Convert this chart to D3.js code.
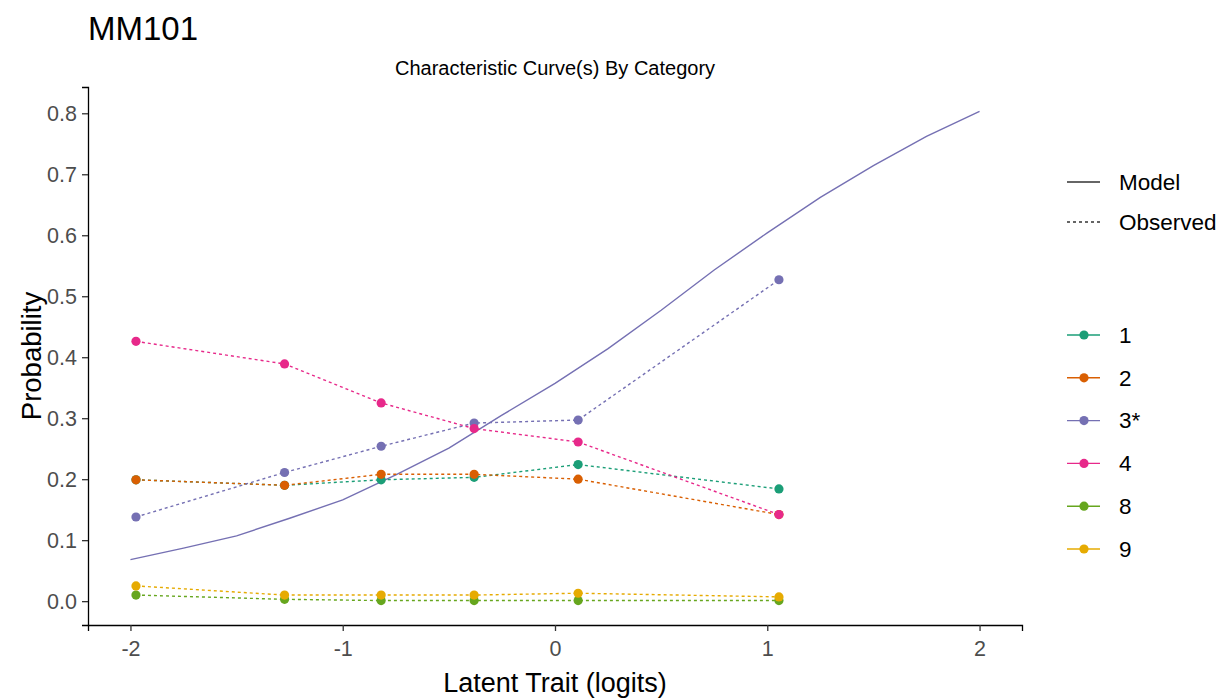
<!DOCTYPE html>
<html>
<head>
<meta charset="utf-8">
<script src="https://cdn.jsdelivr.net/npm/d3@7"></script>
<style>
  html, body { margin: 0; padding: 0; background: #fff; }
  svg text { font-family: "Liberation Sans", Arial, sans-serif; }
</style>
</head>
<body>
<svg id="chart" width="1230" height="699"></svg>
<script>
// Ability group means (logits) at which observed proportions were computed
const groupTheta = [-1.974, -1.274, -0.819, -0.381, 0.109, 1.055];

// Observed proportion choosing each response category, per ability group
const categories = ["1", "2", "3*", "4", "8", "9"];
const obsCat1 = [0.199, 0.190, 0.199, 0.203, 0.224, 0.184];
const obsCat2 = [0.199, 0.190, 0.208, 0.208, 0.200, 0.142];
const obsCat3 = [0.138, 0.211, 0.254, 0.292, 0.297, 0.527];
const obsCat4 = [0.426, 0.389, 0.325, 0.283, 0.261, 0.142];
const obsCat8 = [0.010, 0.003, 0.001, 0.001, 0.001, 0.001];
const obsCat9 = [0.025, 0.010, 0.010, 0.010, 0.013, 0.007];

// Model-expected probability for the keyed category (3*)
const modelTheta = [-2.00, -1.75, -1.50, -1.25, -1.00, -0.75, -0.50, -0.25, 0.00,
                    0.25, 0.50, 0.75, 1.00, 1.25, 1.50, 1.75, 2.00];
const modelProb  = [0.068, 0.087, 0.107, 0.136, 0.166, 0.207, 0.251, 0.305, 0.357,
                    0.414, 0.477, 0.543, 0.604, 0.662, 0.714, 0.762, 0.803];

const xTicks = [-2, -1, 0, 1, 2];
const yTicks = [0, 0.1, 0.2, 0.3, 0.4, 0.5, 0.6, 0.7, 0.8];

const palette = ["#1B9E77", "#D95F02", "#7570B3", "#E7298A", "#66A61E", "#E6AB02"];
const observed = [obsCat1, obsCat2, obsCat3, obsCat4, obsCat8, obsCat9];

const series = categories.map((c, i) => ({
  name: c,
  color: palette[i],
  values: groupTheta.map((t, j) => ({ x: t, y: observed[i][j] }))
}));
const model = modelTheta.map((t, j) => ({ x: t, y: modelProb[j] }));

const svg = d3.select("#chart");
const panel = { left: 88, right: 1022, top: 87, bottom: 625 };

// ggplot-style 5% expansion of the data range
function expand(ext, f) { const d = (ext[1] - ext[0]) * f; return [ext[0] - d, ext[1] + d]; }
const xExt = d3.extent(modelTheta.concat(groupTheta));
const yExt = d3.extent(modelProb.concat(...observed));

const x = d3.scaleLinear().domain(expand(xExt, 0.05)).range([panel.left, panel.right]);
const y = d3.scaleLinear().domain(expand(yExt, 0.05)).range([panel.bottom, panel.top]);

const line = d3.line().x(d => x(d.x)).y(d => y(d.y));

// Model curve (solid)
svg.append("path")
  .datum(model)
  .attr("d", line)
  .attr("fill", "none")
  .attr("stroke", palette[2])
  .attr("stroke-width", 1.4);

// Observed curves (dotted)
svg.append("g").selectAll("path")
  .data(series)
  .join("path")
  .attr("d", d => line(d.values))
  .attr("fill", "none")
  .attr("stroke", d => d.color)
  .attr("stroke-width", 1.4)
  .attr("stroke-dasharray", "3,3");

// Observed points
svg.append("g").selectAll("g")
  .data(series)
  .join("g")
  .attr("fill", d => d.color)
  .selectAll("circle")
  .data(d => d.values)
  .join("circle")
  .attr("cx", d => x(d.x))
  .attr("cy", d => y(d.y))
  .attr("r", 4.6);

// Axes (plain hyphen for negative tick labels)
const xAxis = svg.append("g")
  .attr("transform", `translate(0,${panel.bottom})`)
  .call(d3.axisBottom(x).tickValues(xTicks).tickFormat(d => String(d)).tickSizeOuter(0).tickSize(6).tickPadding(10));
const yAxis = svg.append("g")
  .attr("transform", `translate(${panel.left},0)`)
  .call(d3.axisLeft(y).tickValues(yTicks).tickFormat(d => d.toFixed(1)).tickSizeOuter(0).tickSize(6).tickPadding(5));

[xAxis, yAxis].forEach(a => {
  a.select(".domain").attr("stroke", "#000").attr("stroke-width", 1.3);
  a.selectAll(".tick line").attr("stroke", "#333").attr("stroke-width", 1.3);
  a.selectAll(".tick text").attr("fill", "#4D4D4D").attr("font-size", 21.5)
    .attr("font-family", "'Liberation Sans', Arial, sans-serif");
});

// Titles
svg.append("text").attr("x", 88).attr("y", 40)
  .attr("font-size", 33).attr("fill", "#000").text("MM101");
svg.append("text").attr("x", (panel.left + panel.right) / 2).attr("y", 75)
  .attr("text-anchor", "middle").attr("font-size", 20).attr("fill", "#000")
  .text("Characteristic Curve(s) By Category");
svg.append("text").attr("x", (panel.left + panel.right) / 2).attr("y", 692)
  .attr("text-anchor", "middle").attr("font-size", 27).attr("fill", "#000")
  .text("Latent Trait (logits)");
svg.append("text")
  .attr("transform", `translate(41,${(panel.top + panel.bottom) / 2}) rotate(-90)`)
  .attr("text-anchor", "middle").attr("font-size", 27.5).attr("fill", "#000")
  .text("Probability");

// Legend: line type
const ltLegend = svg.append("g");
[{ label: "Model", dash: null, y: 182 }, { label: "Observed", dash: "3,3", y: 222 }].forEach(k => {
  ltLegend.append("line").attr("x1", 1067).attr("x2", 1100).attr("y1", k.y).attr("y2", k.y)
    .attr("stroke", "#333").attr("stroke-width", 1.4).attr("stroke-dasharray", k.dash);
  ltLegend.append("text").attr("x", 1119).attr("y", k.y).attr("dy", "0.35em")
    .attr("font-size", 22.5).attr("fill", "#000").text(k.label);
});

// Legend: category colour
const catLegend = svg.append("g");
series.forEach((s, i) => {
  const ly = 335 + i * 42.8;
  catLegend.append("line").attr("x1", 1067).attr("x2", 1100).attr("y1", ly).attr("y2", ly)
    .attr("stroke", s.color).attr("stroke-width", 1.4);
  catLegend.append("circle").attr("cx", 1084).attr("cy", ly).attr("r", 4.6).attr("fill", s.color);
  catLegend.append("text").attr("x", 1119).attr("y", ly).attr("dy", "0.35em")
    .attr("font-size", 22.5).attr("fill", "#000").text(s.name);
});
</script>
</body>
</html>
